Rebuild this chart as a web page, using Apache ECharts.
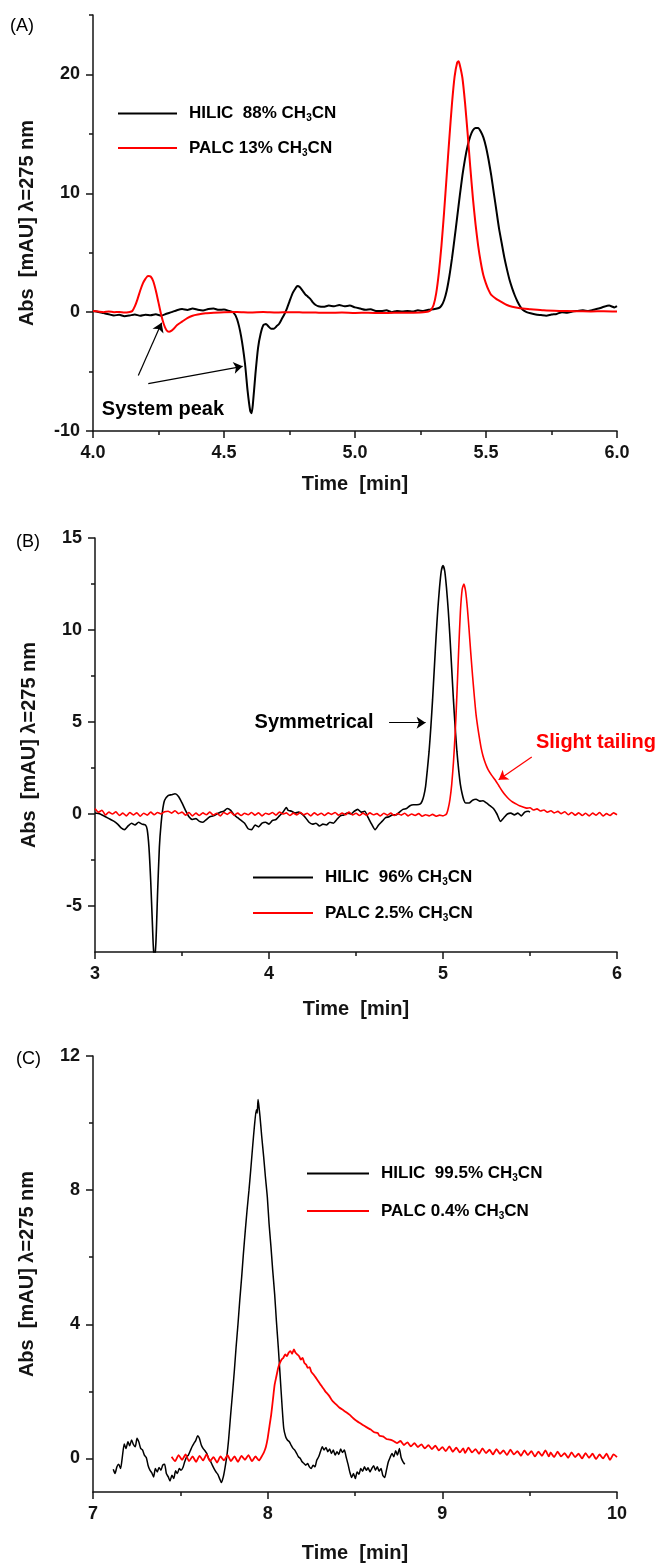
<!DOCTYPE html>
<html lang="en">
<head>
<meta charset="UTF-8">
<title>HILIC vs PALC chromatograms</title>
<script src="https://cdn.jsdelivr.net/npm/echarts@6/dist/echarts.min.js"></script>
<style>
  html, body { margin: 0; padding: 0; background: #fff; }
  #chart { width: 659px; height: 1565px; }
</style>
</head>
<body>
<div id="chart"></div>
<script>
// ---- data: [time (min), absorbance (mAU)] ----

// panel A
var nameHilicA = 'HILIC  88% CH3CN';
var namePalcA = 'PALC 13% CH3CN';
var hilicA = [
  [4.00,0.10],[4.02,0.02],[4.04,-0.08],[4.06,-0.18],[4.08,-0.28],[4.10,-0.22],[4.12,-0.34],[4.14,-0.28],[4.16,-0.20],[4.18,-0.30],
  [4.20,-0.22],[4.22,-0.26],[4.24,-0.18],[4.26,-0.30],[4.28,-0.14],[4.30,0.00],[4.32,0.16],[4.34,0.26],[4.36,0.18],[4.38,0.30],
  [4.40,0.20],[4.42,0.14],[4.44,0.26],[4.46,0.30],[4.48,0.20],[4.50,0.22],[4.52,0.10],[4.535,0.00],[4.55,-0.60],[4.565,-2.0],
  [4.58,-4.3],[4.59,-6.6],[4.60,-8.3],[4.605,-8.5],[4.61,-7.8],[4.62,-5.2],[4.63,-3.0],[4.64,-1.8],[4.65,-1.1],[4.66,-1.0],
  [4.67,-1.2],[4.68,-1.4],[4.69,-1.4],[4.70,-1.2],[4.71,-1.0],[4.72,-0.6],[4.73,-0.2],[4.74,0.3],[4.75,0.9],[4.76,1.5],
  [4.77,1.9],[4.78,2.2],[4.79,2.1],[4.80,1.8],[4.81,1.5],[4.82,1.3],[4.83,1.1],[4.84,0.8],[4.85,0.6],[4.86,0.5],
  [4.88,0.45],[4.90,0.55],[4.92,0.50],[4.94,0.60],[4.96,0.50],[4.98,0.55],[5.00,0.40],[5.02,0.30],[5.04,0.20],[5.06,0.25],
  [5.08,0.10],[5.10,0.10],[5.12,0.15],[5.14,0.00],[5.16,0.10],[5.18,0.05],[5.20,0.10],[5.22,0.05],[5.24,0.15],[5.26,0.10],
  [5.28,0.20],[5.30,0.25],[5.32,0.35],[5.33,0.55],[5.34,1.0],[5.35,1.8],[5.36,3.0],[5.37,4.5],[5.38,6.2],[5.39,8.0],
  [5.40,9.8],[5.41,11.5],[5.42,12.9],[5.43,14.0],[5.44,14.8],[5.45,15.3],[5.46,15.5],[5.47,15.5],[5.48,15.2],[5.49,14.7],
  [5.50,13.9],[5.51,12.8],[5.52,11.5],[5.53,10.0],[5.54,8.5],[5.55,7.0],[5.56,5.8],[5.57,4.6],[5.58,3.6],[5.59,2.7],
  [5.60,2.0],[5.61,1.4],[5.62,0.9],[5.63,0.5],[5.64,0.2],[5.655,0.0],[5.67,-0.1],[5.69,-0.2],[5.71,-0.25],[5.73,-0.3],
  [5.75,-0.2],[5.77,-0.15],[5.79,0.0],[5.81,-0.05],[5.83,0.05],[5.85,0.10],[5.87,0.15],[5.89,0.10],[5.91,0.20],[5.93,0.30],
  [5.95,0.45],[5.97,0.55],[5.99,0.40],[6.00,0.50]
];
var palcA = [
  [4.00,0.10],[4.02,0.05],[4.04,0.00],[4.06,0.06],[4.08,0.00],[4.10,0.02],[4.12,-0.04],[4.14,0.02],[4.15,0.10],[4.16,0.50],
  [4.17,1.10],[4.18,1.80],[4.19,2.40],[4.20,2.80],[4.21,3.05],[4.22,3.00],[4.23,2.60],[4.24,1.80],[4.25,0.80],[4.26,-0.20],
  [4.27,-1.00],[4.28,-1.50],[4.29,-1.65],[4.30,-1.55],[4.31,-1.35],[4.32,-1.10],[4.34,-0.80],[4.36,-0.50],[4.38,-0.30],[4.40,-0.20],
  [4.43,-0.10],[4.46,-0.05],[4.50,0.00],[4.55,0.02],[4.60,-0.02],[4.65,0.01],[4.70,-0.03],[4.75,0.00],[4.80,-0.02],[4.85,-0.04],
  [4.90,-0.06],[4.95,-0.04],[5.00,-0.07],[5.05,-0.05],[5.10,-0.08],[5.15,-0.05],[5.20,-0.06],[5.25,-0.02],[5.28,0.05],[5.29,0.20],
  [5.30,0.60],[5.31,1.60],[5.32,3.30],[5.33,5.60],[5.34,8.40],[5.35,11.5],[5.36,14.6],[5.37,17.5],[5.38,19.8],[5.39,21.0],
  [5.395,21.1],[5.40,20.8],[5.41,19.7],[5.42,17.6],[5.43,15.0],[5.44,12.2],[5.45,9.6],[5.46,7.4],[5.47,5.6],[5.48,4.2],
  [5.49,3.1],[5.50,2.4],[5.51,1.85],[5.52,1.45],[5.54,1.10],[5.56,0.85],[5.58,0.60],[5.60,0.45],[5.63,0.33],[5.67,0.25],
  [5.72,0.15],[5.78,0.10],[5.84,0.08],[5.90,0.06],[5.95,0.08],[6.00,0.05]
];

// panel B
var nameHilicB = 'HILIC  96% CH3CN';
var namePalcB = 'PALC 2.5% CH3CN';
var hilicB = [
  [3.00,0.05],[3.03,0.00],[3.06,-0.15],[3.09,-0.30],[3.11,-0.40],[3.13,-0.55],[3.15,-0.75],[3.17,-0.85],[3.19,-0.65],[3.21,-0.50],
  [3.23,-0.60],[3.25,-0.45],[3.27,-0.55],[3.29,-0.60],[3.30,-0.85],[3.31,-1.80],[3.32,-3.60],[3.33,-6.00],[3.34,-8.00],[3.35,-7.00],
  [3.36,-4.20],[3.37,-1.80],[3.38,-0.50],[3.39,0.30],[3.40,0.75],[3.42,1.00],[3.44,1.05],[3.46,1.10],[3.48,0.95],[3.50,0.60],
  [3.52,0.20],[3.54,-0.15],[3.56,-0.30],[3.58,-0.25],[3.60,-0.40],[3.62,-0.45],[3.64,-0.30],[3.66,-0.15],[3.68,-0.10],[3.70,0.00],
  [3.72,0.10],[3.74,0.15],[3.76,0.30],[3.78,0.20],[3.80,-0.05],[3.82,-0.20],[3.84,-0.35],[3.86,-0.50],[3.88,-0.80],[3.90,-0.85],
  [3.92,-0.60],[3.94,-0.70],[3.96,-0.50],[3.98,-0.45],[4.00,-0.55],[4.02,-0.35],[4.04,-0.30],[4.06,-0.10],[4.08,0.10],[4.10,0.35],
  [4.11,0.20],[4.13,0.15],[4.15,0.05],[4.17,0.10],[4.19,0.00],[4.21,-0.20],[4.23,-0.45],[4.25,-0.55],[4.27,-0.50],[4.29,-0.65],
  [4.31,-0.55],[4.33,-0.60],[4.35,-0.45],[4.37,-0.50],[4.39,-0.30],[4.41,-0.10],[4.43,-0.05],[4.45,0.05],[4.47,0.00],[4.49,0.15],
  [4.51,0.25],[4.53,0.10],[4.55,0.15],[4.57,-0.20],[4.59,-0.55],[4.61,-0.85],[4.63,-0.60],[4.65,-0.40],[4.67,-0.20],[4.69,-0.15],
  [4.71,-0.05],[4.73,-0.05],[4.75,0.10],[4.77,0.25],[4.79,0.30],[4.81,0.45],[4.83,0.50],[4.85,0.50],[4.87,0.55],[4.88,0.70],
  [4.89,1.00],[4.90,1.50],[4.91,2.40],[4.92,3.40],[4.93,4.70],[4.94,6.20],[4.95,7.90],[4.96,9.60],[4.97,11.1],[4.98,12.3],
  [4.99,13.2],[5.00,13.5],[5.01,13.2],[5.02,12.3],[5.03,11.1],[5.04,9.60],[5.05,7.90],[5.06,6.20],[5.07,4.70],[5.08,3.40],
  [5.09,2.40],[5.10,1.60],[5.11,1.10],[5.12,0.75],[5.13,0.60],[5.15,0.60],[5.17,0.75],[5.19,0.80],[5.21,0.70],[5.23,0.72],
  [5.25,0.60],[5.27,0.45],[5.29,0.30],[5.31,0.00],[5.33,-0.40],[5.35,-0.20],[5.37,0.00],[5.39,0.05],[5.41,-0.05],[5.43,0.05],
  [5.45,-0.10],[5.47,0.10],[5.49,0.15],[5.50,0.10]
];
var palcB = [
  [3.00,0.30],[3.02,0.10],[3.04,0.20],[3.06,-0.05],[3.08,0.10],[3.10,0.00],[3.12,0.12],[3.14,-0.08],[3.16,0.05],[3.18,-0.10],
  [3.20,0.08],[3.22,-0.05],[3.24,0.06],[3.26,-0.12],[3.28,0.04],[3.30,-0.06],[3.32,0.10],[3.34,-0.04],[3.36,0.08],[3.38,0.00],
  [3.40,0.12],[3.42,0.15],[3.44,0.05],[3.46,0.18],[3.48,0.02],[3.50,0.10],[3.52,-0.06],[3.54,0.08],[3.56,-0.10],[3.58,0.05],
  [3.60,-0.08],[3.62,0.06],[3.64,-0.04],[3.66,0.10],[3.68,-0.06],[3.70,0.04],[3.72,-0.10],[3.74,0.08],[3.76,-0.02],[3.78,0.10],
  [3.80,-0.06],[3.82,0.05],[3.84,-0.08],[3.86,0.04],[3.88,-0.04],[3.90,0.08],[3.92,-0.06],[3.94,0.06],[3.96,-0.10],[3.98,0.04],
  [4.00,-0.02],[4.02,0.08],[4.04,-0.06],[4.06,0.10],[4.08,0.00],[4.10,0.06],[4.12,-0.08],[4.14,0.05],[4.16,-0.05],[4.18,0.08],
  [4.20,-0.04],[4.22,0.04],[4.24,-0.10],[4.26,0.06],[4.28,-0.06],[4.30,0.04],[4.32,-0.08],[4.34,0.06],[4.36,-0.02],[4.38,0.08],
  [4.40,-0.06],[4.42,0.05],[4.44,-0.04],[4.46,0.10],[4.48,-0.05],[4.50,0.04],[4.52,-0.08],[4.54,0.05],[4.56,-0.06],[4.58,0.06],
  [4.60,-0.04],[4.62,0.02],[4.64,-0.10],[4.66,0.04],[4.68,-0.06],[4.70,0.05],[4.72,-0.08],[4.74,0.02],[4.76,-0.06],[4.78,0.04],
  [4.80,-0.10],[4.82,0.00],[4.84,-0.08],[4.86,0.02],[4.88,-0.12],[4.90,-0.04],[4.92,-0.10],[4.94,-0.02],[4.96,-0.12],[4.98,-0.06],
  [5.00,-0.10],[5.02,0.00],[5.03,0.30],[5.04,0.80],[5.05,1.60],[5.06,2.80],[5.07,4.40],[5.08,6.50],[5.09,8.90],[5.10,11.0],
  [5.11,12.2],[5.12,12.5],[5.13,12.1],[5.14,11.2],[5.15,10.0],[5.16,8.70],[5.17,7.50],[5.18,6.40],[5.19,5.40],[5.20,4.70],
  [5.21,4.10],[5.22,3.55],[5.23,3.15],[5.24,2.85],[5.25,2.60],[5.26,2.40],[5.28,2.10],[5.30,1.85],[5.32,1.55],[5.34,1.25],
  [5.36,1.00],[5.38,0.80],[5.40,0.65],[5.42,0.55],[5.44,0.45],[5.46,0.38],[5.48,0.32],[5.50,0.34],[5.52,0.22],[5.54,0.28],
  [5.56,0.16],[5.58,0.22],[5.60,0.10],[5.62,0.18],[5.64,0.06],[5.66,0.14],[5.68,0.02],[5.70,0.12],[5.72,-0.04],[5.74,0.08],
  [5.76,-0.06],[5.78,0.06],[5.80,-0.08],[5.82,0.04],[5.84,-0.10],[5.86,0.05],[5.88,-0.06],[5.90,0.08],[5.92,-0.10],[5.94,0.02],
  [5.96,-0.08],[5.98,0.06],[6.00,-0.04]
];

// panel C
var nameHilicC = 'HILIC  99.5% CH3CN';
var namePalcC = 'PALC 0.4% CH3CN';
var hilicC = [
  [7.116,-0.32],[7.126,-0.45],[7.137,-0.25],[7.147,-0.17],[7.158,-0.30],[7.168,0.05],[7.179,0.43],[7.189,0.30],[7.200,0.50],[7.210,0.38],
  [7.221,0.55],[7.231,0.42],[7.242,0.35],[7.252,0.60],[7.263,0.48],[7.273,0.30],[7.284,0.25],[7.294,0.10],[7.305,0.03],[7.315,-0.20],
  [7.326,-0.35],[7.336,-0.42],[7.347,-0.55],[7.357,-0.30],[7.368,-0.40],[7.378,-0.27],[7.389,-0.35],[7.399,-0.20],[7.410,-0.17],[7.420,-0.45],
  [7.431,-0.55],[7.441,-0.67],[7.452,-0.50],[7.462,-0.60],[7.473,-0.37],[7.483,-0.45],[7.494,-0.30],[7.504,-0.35],[7.515,-0.27],[7.525,-0.10],
  [7.536,0.05],[7.546,0.10],[7.557,0.23],[7.567,0.35],[7.578,0.45],[7.588,0.53],[7.599,0.68],[7.609,0.60],[7.620,0.40],[7.630,0.30],
  [7.641,0.23],[7.651,0.15],[7.662,0.00],[7.672,-0.07],[7.683,-0.20],[7.693,-0.30],[7.704,-0.40],[7.714,-0.47],[7.725,-0.60],[7.735,-0.72],
  [7.746,-0.55],[7.756,-0.27],[7.767,0.10],[7.777,0.60],[7.788,1.30],[7.798,1.90],[7.809,2.60],[7.819,3.30],[7.830,4.00],[7.840,4.70],
  [7.851,5.40],[7.861,6.10],[7.872,6.80],[7.882,7.40],[7.893,8.00],[7.903,8.60],[7.914,9.30],[7.924,9.90],[7.935,10.40],[7.940,10.30],
  [7.945,10.70],[7.950,10.50],[7.956,10.20],[7.966,9.60],[7.977,9.00],[7.987,8.40],[7.998,7.80],[8.008,7.00],[8.019,6.30],[8.029,5.60],
  [8.040,4.90],[8.050,4.10],[8.061,3.30],[8.071,2.50],[8.082,1.60],[8.092,0.90],[8.103,0.65],[8.113,0.55],[8.124,0.50],[8.134,0.40],
  [8.145,0.30],[8.155,0.25],[8.166,0.15],[8.176,0.05],[8.187,0.00],[8.197,-0.10],[8.208,-0.15],[8.218,-0.20],[8.229,-0.15],[8.239,-0.25],
  [8.250,-0.30],[8.260,-0.20],[8.271,-0.25],[8.281,-0.05],[8.292,0.05],[8.302,0.20],[8.313,0.35],[8.323,0.25],[8.334,0.33],[8.344,0.20],
  [8.355,0.28],[8.365,0.15],[8.376,0.25],[8.386,0.10],[8.397,0.20],[8.407,0.12],[8.418,0.28],[8.428,0.18],[8.439,0.25],[8.449,0.05],
  [8.460,-0.17],[8.470,-0.40],[8.481,-0.57],[8.491,-0.45],[8.502,-0.60],[8.512,-0.40],[8.523,-0.47],[8.533,-0.30],[8.544,-0.38],[8.554,-0.25],
  [8.565,-0.35],[8.575,-0.28],[8.586,-0.40],[8.596,-0.30],[8.607,-0.22],[8.617,-0.35],[8.628,-0.25],[8.638,-0.38],[8.649,-0.30],[8.659,-0.50],
  [8.670,-0.57],[8.680,-0.35],[8.691,-0.10],[8.701,0.03],[8.712,0.15],[8.722,0.05],[8.733,0.23],[8.743,0.10],[8.754,0.30],[8.764,0.03],
  [8.775,-0.10],[8.785,-0.17]
];
var palcC = [
  [7.45,0.05],[7.47,-0.08],[7.49,0.10],[7.51,-0.04],[7.53,0.12],[7.55,-0.08],[7.57,0.06],[7.59,-0.10],[7.61,0.08],[7.63,-0.06],
  [7.65,0.12],[7.67,-0.08],[7.69,0.04],[7.71,-0.12],[7.73,0.06],[7.75,-0.06],[7.77,0.10],[7.79,-0.08],[7.81,0.06],[7.83,-0.10],
  [7.85,0.08],[7.87,-0.04],[7.89,0.10],[7.91,-0.08],[7.93,0.06],[7.95,-0.06],[7.97,0.10],[7.98,0.20],[7.99,0.35],[8.00,0.60],
  [8.01,0.95],[8.02,1.30],[8.03,1.75],[8.04,2.20],[8.05,2.45],[8.06,2.70],[8.07,2.85],[8.08,2.95],[8.09,3.00],[8.10,3.10],
  [8.11,3.05],[8.12,3.15],[8.13,3.20],[8.14,3.12],[8.15,3.25],[8.16,3.15],[8.17,3.10],[8.18,3.05],[8.19,2.95],[8.20,3.00],
  [8.21,2.85],[8.22,2.80],[8.23,2.70],[8.24,2.72],[8.25,2.58],[8.26,2.52],[8.27,2.45],[8.28,2.38],[8.29,2.30],[8.30,2.22],
  [8.31,2.15],[8.32,2.08],[8.33,2.00],[8.35,1.88],[8.37,1.72],[8.39,1.62],[8.41,1.52],[8.43,1.45],[8.45,1.38],[8.47,1.30],
  [8.49,1.20],[8.51,1.12],[8.53,1.05],[8.55,0.98],[8.57,0.92],[8.59,0.86],[8.61,0.78],[8.63,0.76],[8.64,0.68],[8.66,0.66],
  [8.68,0.58],[8.70,0.56],[8.72,0.52],[8.74,0.46],[8.76,0.52],[8.78,0.40],[8.80,0.48],[8.82,0.36],[8.84,0.46],[8.86,0.34],
  [8.88,0.42],[8.90,0.30],[8.92,0.40],[8.94,0.28],[8.96,0.38],[8.98,0.24],[9.00,0.34],[9.02,0.22],[9.04,0.36],[9.06,0.20],
  [9.08,0.32],[9.10,0.18],[9.12,0.30],[9.13,0.16],[9.15,0.32],[9.17,0.18],[9.19,0.28],[9.21,0.14],[9.23,0.30],[9.25,0.16],
  [9.27,0.26],[9.29,0.12],[9.31,0.28],[9.33,0.14],[9.35,0.24],[9.37,0.10],[9.39,0.26],[9.41,0.12],[9.43,0.22],[9.45,0.08],
  [9.47,0.24],[9.49,0.10],[9.51,0.22],[9.53,0.06],[9.55,0.20],[9.57,0.08],[9.59,0.24],[9.61,0.06],[9.62,0.18],[9.64,0.04],
  [9.66,0.20],[9.68,0.06],[9.70,0.16],[9.72,0.02],[9.74,0.18],[9.76,0.04],[9.78,0.14],[9.80,0.00],[9.82,0.16],[9.84,0.02],
  [9.86,0.14],[9.88,-0.02],[9.90,0.12],[9.92,0.00],[9.94,0.14],[9.96,-0.04],[9.98,0.12],[10.00,0.04]
];

// axis ticks
var yMajorA = [-10, 0, 10, 20];
var yMinorA = [-5, 5, 15, 25];
var yMajorB = [-5, 0, 5, 10, 15];
var yMinorB = [-2.5, 2.5, 7.5, 12.5];
var yMajorC = [0, 4, 8, 12];
var yMinorC = [2, 6, 10];

var FONT = '"Liberation Sans", Arial, Helvetica, sans-serif';
var INK = '#141414';

var chart = echarts.init(document.getElementById('chart'), null, { renderer: 'canvas' });

function yAxes(grid, min, max, major, minor) {
  var base = {
    type: 'value', gridIndex: grid, min: min, max: max, position: 'left',
    splitLine: { show: false }
  };
  return [
    Object.assign({}, base, {
      name: 'Abs  [mAU] \u03bb=275 nm',
      nameLocation: 'middle', nameGap: 56,
      nameTextStyle: { fontFamily: FONT, fontSize: 20, fontWeight: 'bold', color: INK },
      axisLine: { show: true, onZero: false, lineStyle: { color: INK, width: 1.5 } },
      axisTick: { show: true, length: 7, customValues: major, lineStyle: { color: INK, width: 1.5 } },
      axisLabel: { customValues: major, margin: 13, fontFamily: FONT, fontSize: 18, fontWeight: 'bold', color: INK }
    }),
    Object.assign({}, base, {
      axisLine: { show: false },
      axisTick: { show: true, length: 4, customValues: minor, lineStyle: { color: INK, width: 1.5 } },
      axisLabel: { show: false }
    })
  ];
}

function xAxis(grid, min, max, interval, digits, nameGap) {
  return {
    type: 'value', gridIndex: grid, min: min, max: max, interval: interval,
    name: 'Time  [min]', nameLocation: 'middle', nameGap: nameGap,
    nameTextStyle: { fontFamily: FONT, fontSize: 20, fontWeight: 'bold', color: INK },
    axisLine: { onZero: false, lineStyle: { color: INK, width: 1.5 } },
    axisTick: { length: 7, lineStyle: { color: INK, width: 1.5 } },
    minorTick: { show: true, splitNumber: 2, length: 4, lineStyle: { color: INK, width: 1.5 } },
    axisLabel: {
      margin: 13, fontFamily: FONT, fontSize: 18, fontWeight: 'bold', color: INK,
      formatter: function (v) { return v.toFixed(digits); }
    },
    splitLine: { show: false }, minorSplitLine: { show: false }
  };
}

function legend(names, left, top, gap, width) {
  return {
    data: names, orient: 'vertical', left: left, top: top, itemGap: gap, padding: 0,
    icon: 'rect', itemWidth: width, itemHeight: 2, selectedMode: false,
    formatter: function (n) { return n.replace('CH3CN', 'CH{s|3}CN'); },
    textStyle: {
      fontFamily: FONT, fontSize: 17, fontWeight: 'bold', color: '#000', padding: [0, 0, 0, 7],
      rich: { s: { fontFamily: FONT, fontSize: 10, fontWeight: 'bold', color: '#000', padding: [10, 0, 0, 0] } }
    }
  };
}

function line(name, data, grid, color, width) {
  return {
    type: 'line', name: name, data: data, xAxisIndex: grid, yAxisIndex: grid * 2,
    showSymbol: false, symbol: 'none', animation: false, smooth: 0.2,
    lineStyle: { color: color, width: width }, itemStyle: { color: color }
  };
}

function arrows(color, pairs) {
  return {
    silent: true, animation: false, symbol: ['none', 'arrow'], symbolSize: 9,
    itemStyle: { color: color },
    lineStyle: { color: color, width: 1.2, type: 'solid' },
    label: { show: false }, emphasis: { disabled: true },
    data: pairs.map(function (p) { return [{ coord: p[0] }, { coord: p[1] }]; })
  };
}

function note(text, coord, color) {
  return {
    silent: true, animation: false, symbol: 'circle', symbolSize: 0,
    label: { show: true, position: 'inside', formatter: text, fontFamily: FONT, fontSize: 20, fontWeight: 'bold', color: color },
    data: [{ coord: coord }]
  };
}

var sHilicA = line(nameHilicA, hilicA, 0, '#000', 2);
sHilicA.markLine = arrows('#000', [[[4.173, -5.34], [4.262, -0.9]], [[4.211, -6.02], [4.571, -4.56]]]);
sHilicA.markPoint = note('System peak', [4.267, -8.21], '#000');

var sHilicB = line(nameHilicB, hilicB, 1, '#000', 1.6);
sHilicB.markLine = arrows('#000', [[[4.69, 4.96], [4.90, 4.96]]]);
sHilicB.markPoint = note('Symmetrical', [4.259, 4.96], '#000');

var sPalcB = line(namePalcB, palcB, 1, '#ff0000', 1.6);
sPalcB.markLine = arrows('#ff0000', [[[5.51, 3.1], [5.32, 1.86]]]);
sPalcB.markPoint = note('Slight tailing', [5.879, 3.88], '#ff0000');

var option = {
  backgroundColor: '#fff',
  animation: false,
  grid: [
    { left: 93, top: 15, width: 524, height: 416, containLabel: false, outerBoundsMode: 'none' },
    { left: 95, top: 538, width: 522, height: 414, containLabel: false, outerBoundsMode: 'none' },
    { left: 93, top: 1056, width: 524, height: 436, containLabel: false, outerBoundsMode: 'none' }
  ],
  xAxis: [
    xAxis(0, 4, 6, 0.5, 1, 43),
    xAxis(1, 3, 6, 1, 0, 47),
    xAxis(2, 7, 10, 1, 0, 51)
  ],
  yAxis: [].concat(
    yAxes(0, -10, 25, yMajorA, yMinorA),
    yAxes(1, -7.5, 15, yMajorB, yMinorB),
    yAxes(2, -1, 12, yMajorC, yMinorC)
  ),
  legend: [
    legend([nameHilicA, namePalcA], 118, 105, 16, 59),
    legend([nameHilicB, namePalcB], 253, 869, 17, 60),
    legend([nameHilicC, namePalcC], 307, 1165, 19, 62)
  ],
  graphic: [
    { type: 'text', left: 10, top: 17, style: { text: '(A)', font: '18px ' + FONT, fill: '#000' } },
    { type: 'text', left: 16, top: 533, style: { text: '(B)', font: '18px ' + FONT, fill: '#000' } },
    { type: 'text', left: 16, top: 1050, style: { text: '(C)', font: '18px ' + FONT, fill: '#000' } }
  ],
  series: [
    sHilicA,
    line(namePalcA, palcA, 0, '#ff0000', 2),
    sHilicB,
    sPalcB,
    line(nameHilicC, hilicC, 2, '#000', 1.5),
    line(namePalcC, palcC, 2, '#ff0000', 1.8)
  ]
};

chart.setOption(option);
</script>
</body>
</html>
